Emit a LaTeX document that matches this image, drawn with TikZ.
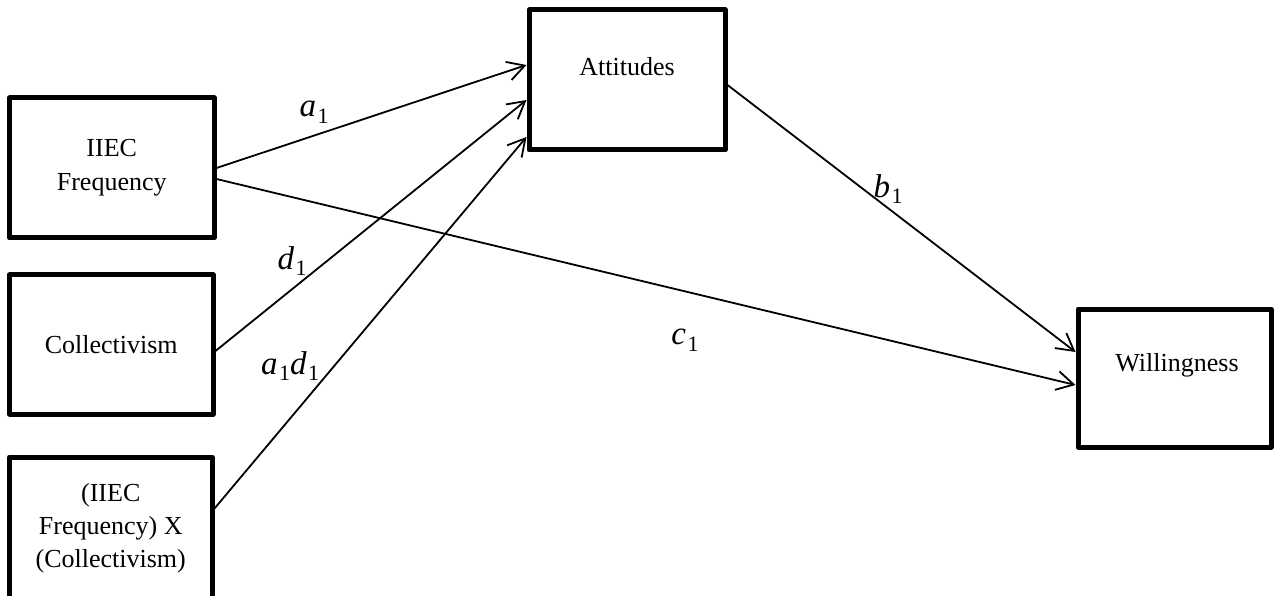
\documentclass[tikz,border=0pt]{standalone}
\usepackage{fontspec}
\setmainfont{Liberation Serif}
\usetikzlibrary{arrows.meta}
\newcommand{\boxfont}{\fontsize{26}{34}\selectfont}
\newcommand{\labfont}{\fontsize{33}{36}\selectfont\itshape}
\newcommand{\lsub}[1]{\kern1.5pt\raisebox{-0.2em}{\upshape\fontsize{22}{22}\selectfont #1}}
\begin{document}
\begin{tikzpicture}[x=1pt,y=-1pt,
  box/.style={draw, line width=5pt, line join=round, inner sep=0pt, align=center, font=\boxfont},
  txt/.style={inner sep=0pt, font=\boxfont},
  lab/.style={inner sep=0pt, font=\labfont},
  conn/.style={line width=1.8pt, -{Straight Barb[length=17pt,width=19pt,line width=1.8pt]}}]
\useasboundingbox (0,0) rectangle (1275,596);
\node[box, minimum width=204.5pt, minimum height=140pt] (freq) at (111.75,168) {IIEC\\Frequency};
\node[box, minimum width=203.5pt, minimum height=139pt] (coll) at (111.25,344.5) {Collectivism};
\node[box, minimum width=202.5pt, minimum height=143pt, font=\fontsize{26}{33}\selectfont] (inter) at (110.75,528.5) {(IIEC\\Frequency) X\\(Collectivism)};
\node[box, minimum width=196pt, minimum height=140pt] (att) at (627,80) {};
\node[txt] (atttext) at (627,67) {Attitudes};
\node[box, minimum width=193pt, minimum height=138pt] (will) at (1174.5,378) {};
\node[txt] (willtext) at (1177,365) {Willingness};
\draw[conn] (freq.east) -- ([yshift=15pt]att.west);
\draw[conn] ([yshift=-6.5pt]coll.east) -- ([yshift=-20pt]att.west);
\draw[conn] ([yshift=20pt]inter.east) -- ([yshift=-57pt]att.west);
\draw[conn] ([yshift=-11pt]freq.east) -- ([yshift=-7pt]will.west);
\draw[conn] ([yshift=-5pt]att.east) -- ([yshift=26pt]will.west);
\node[lab] (la1) at (314,112) {a\lsub{1}};
\node[lab] (ld1) at (292,261) {d\lsub{1}};
\node[lab] (la1d1) at (290,366) {a\lsub{1}d\lsub{1}};
\node[lab] (lb1) at (888,189) {b\lsub{1}};
\node[lab] (lc1) at (685,340) {c\lsub{1}};
\end{tikzpicture}
\end{document}
